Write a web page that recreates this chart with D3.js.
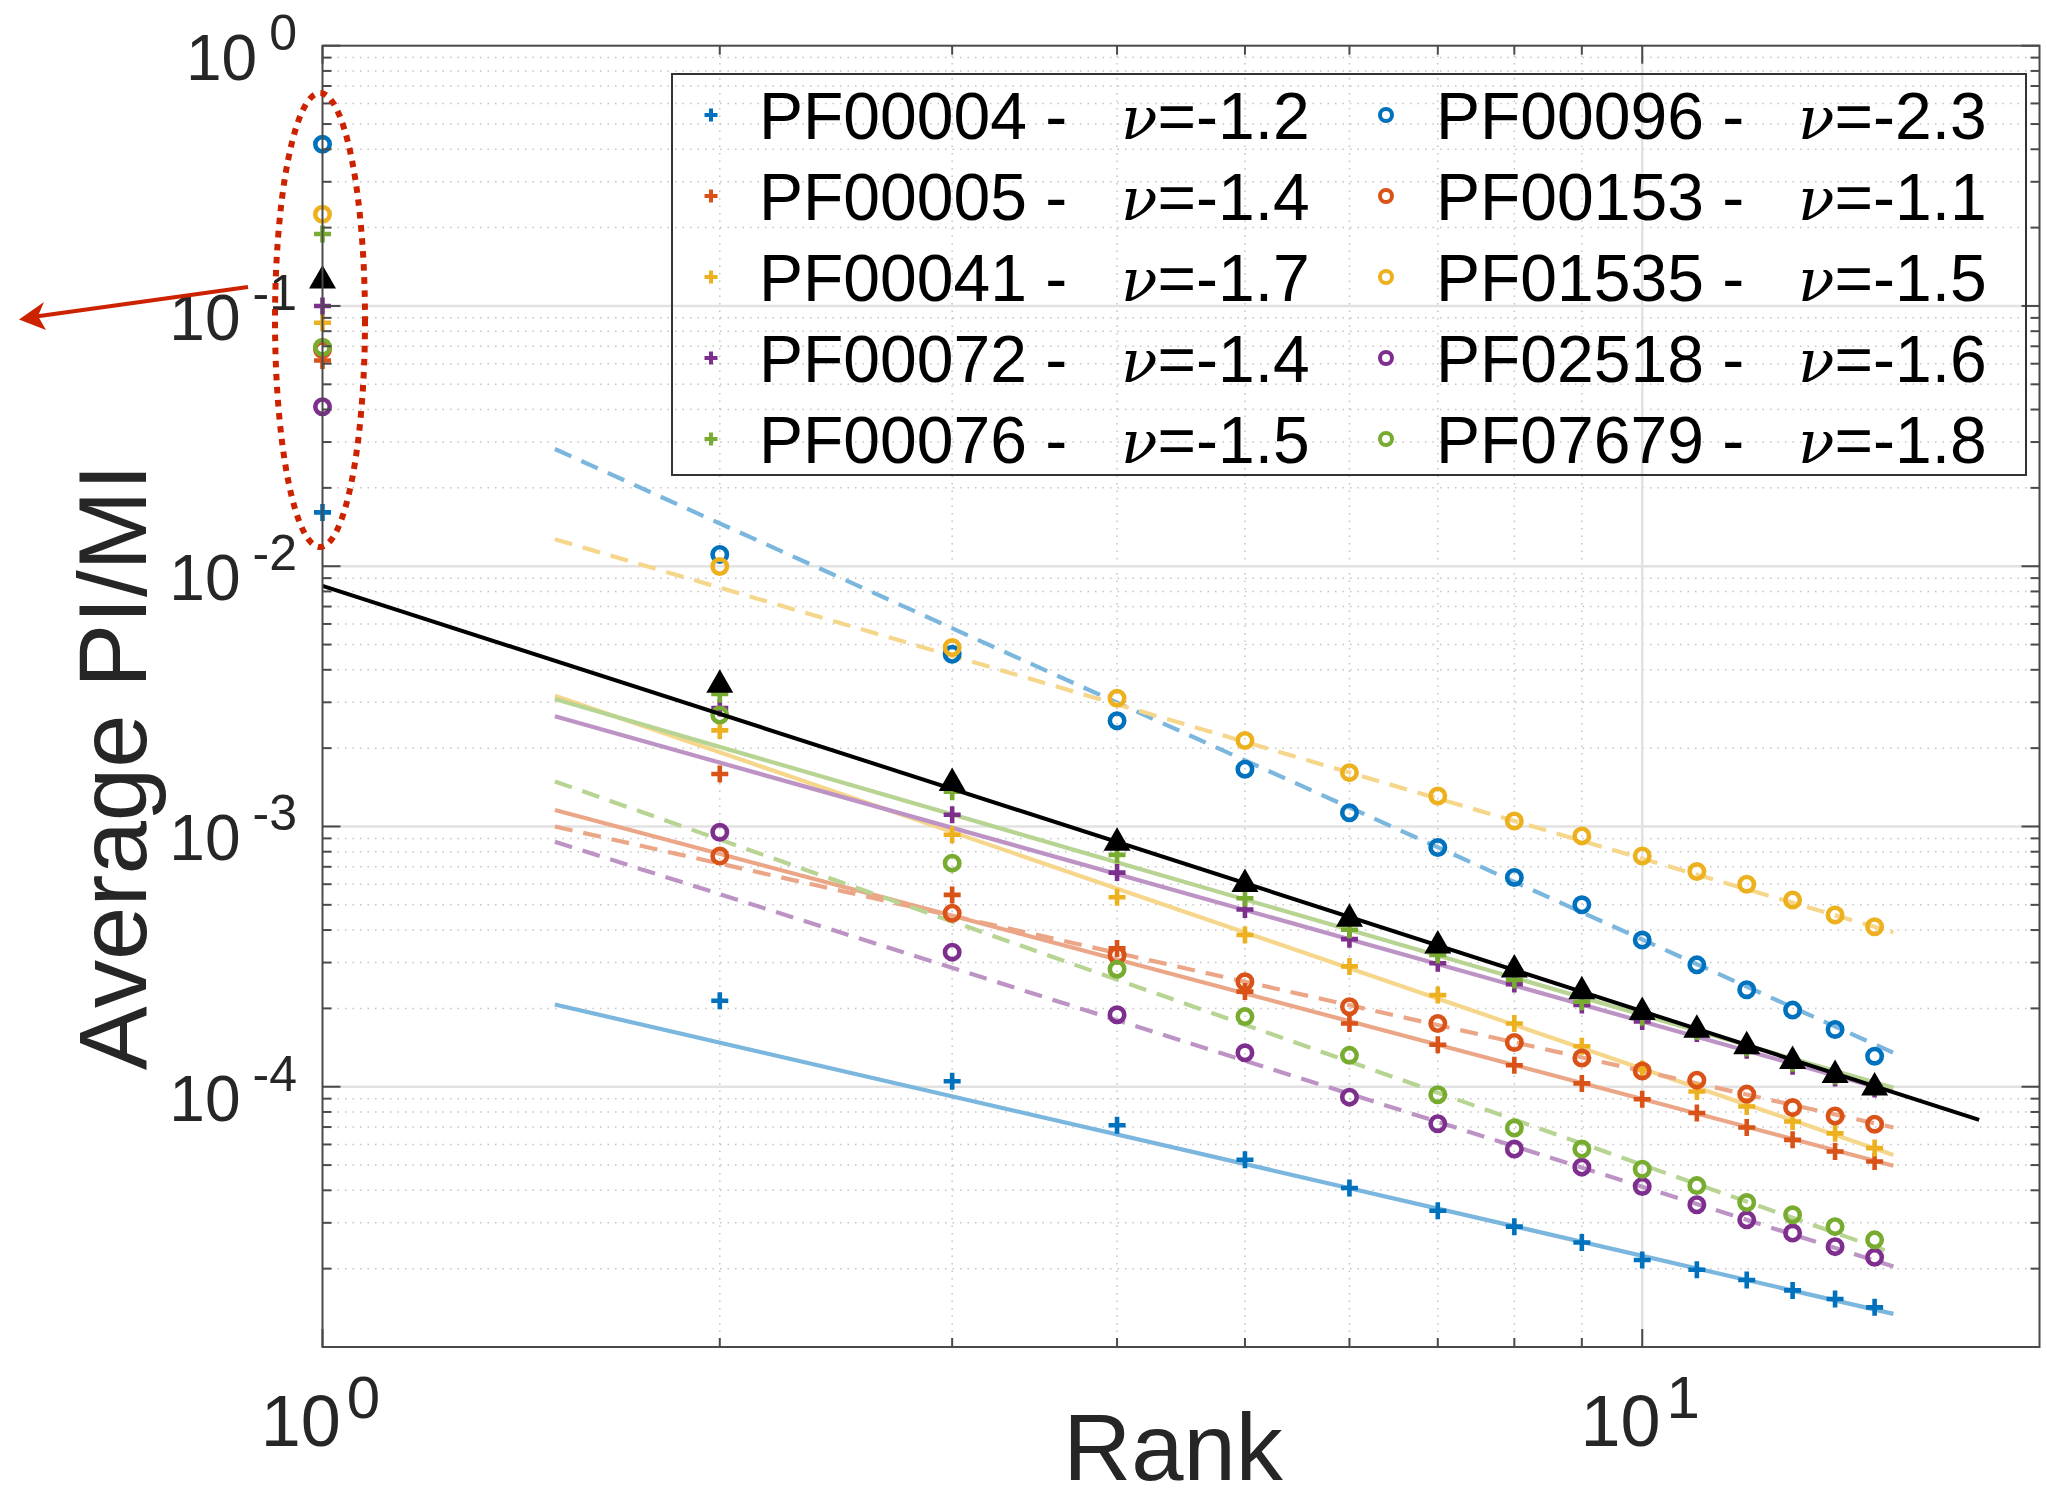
<!DOCTYPE html>
<html>
<head>
<meta charset="utf-8">
<script src="https://cdn.jsdelivr.net/npm/d3@7"></script>
<style>
  body { margin: 0; background: #fff; }
  svg { display: block; font-family: "Liberation Sans", Arial, Helvetica, sans-serif; }
</style>
</head>
<body>
<script>
// ---- data ----
const ranks = [1, 2, 3, 4, 5, 6, 7, 8, 9, 10, 11, 12, 13, 14, 15];

const families = ["PF00004", "PF00005", "PF00041", "PF00072", "PF00076",
                  "PF00096", "PF00153", "PF01535", "PF02518", "PF07679"];
const nuLabels = ["-1.2", "-1.4", "-1.7", "-1.4", "-1.5",
                  "-2.3", "-1.1", "-1.5", "-1.6", "-1.8"];
const markerKind = ["plus", "plus", "plus", "plus", "plus",
                    "circle", "circle", "circle", "circle", "circle"];

const pf00004 = [0.0161, 0.000214, 0.000105, 0.0000711, 0.0000524, 0.0000408, 0.0000334, 0.000029, 0.0000252, 0.0000216, 0.0000198, 0.0000181, 0.0000165, 0.0000153, 0.0000142];
const pf00005 = [0.0617, 0.00159, 0.000546, 0.00034, 0.000232, 0.000175, 0.000145, 0.000121, 0.000103, 0.0000895, 0.0000793, 0.0000697, 0.0000625, 0.0000564, 0.0000516];
const pf00041 = [0.0862, 0.00234, 0.00093, 0.000535, 0.000383, 0.00029, 0.000225, 0.000175, 0.000143, 0.000117, 0.0000959, 0.000084, 0.0000735, 0.0000662, 0.0000581];
const pf00072 = [0.1, 0.00285, 0.00111, 0.000665, 0.00048, 0.000369, 0.000298, 0.000248, 0.000206, 0.000178, 0.00016, 0.000138, 0.00012, 0.000108, 0.000098];
const pf00076 = [0.189, 0.00323, 0.00136, 0.000778, 0.00053, 0.000401, 0.000321, 0.000257, 0.000212, 0.000185, 0.000163, 0.000141, 0.000123, 0.00011, 0.0001];
const pf00096 = [0.418, 0.0111, 0.00459, 0.00255, 0.00166, 0.00113, 0.00083, 0.000637, 0.0005, 0.000366, 0.000294, 0.000236, 0.000197, 0.000166, 0.000131];
const pf00153 = [0.068, 0.00077, 0.000464, 0.00032, 0.000253, 0.000203, 0.000175, 0.000148, 0.000129, 0.000115, 0.000106, 0.0000937, 0.0000832, 0.0000772, 0.0000718];
const pf01535 = [0.225, 0.00997, 0.00487, 0.00311, 0.00214, 0.00161, 0.00131, 0.00105, 0.00092, 0.00077, 0.000671, 0.0006, 0.000522, 0.000457, 0.000412];
const pf02518 = [0.041, 0.00095, 0.000329, 0.000189, 0.000135, 0.0000912, 0.0000721, 0.0000576, 0.0000491, 0.0000414, 0.0000352, 0.0000308, 0.0000274, 0.0000243, 0.0000221];
const pf07679 = [0.0694, 0.00268, 0.000723, 0.000283, 0.000186, 0.000132, 0.0000932, 0.0000694, 0.0000576, 0.0000482, 0.0000417, 0.0000359, 0.0000322, 0.000029, 0.0000258];
const average = [0.1285, 0.0036, 0.00151, 0.00089, 0.000618, 0.000454, 0.000358, 0.00029, 0.000239, 0.000199, 0.00017, 0.000147, 0.000129, 0.000114, 0.000102];

const seriesValues = [pf00004, pf00005, pf00041, pf00072, pf00076,
                      pf00096, pf00153, pf01535, pf02518, pf07679];

// power-law fits: value at the start and end of the fitted range
const fitRange = [1.5, 15.5];
const fitStart = [0.000207, 0.001156, 0.00318, 0.00265, 0.00309, 0.0282, 0.001, 0.0127, 0.000873, 0.00149];
const fitEnd   = [0.0000134, 0.0000497, 0.0000547, 0.0000955, 0.000099, 0.000135, 0.0000697, 0.000392, 0.0000204, 0.0000229];
const avgFitRange = [1, 18];
const avgFit = [0.0084, 0.0000746];

const xMajor = [1, 10];
const yMajor = [1, 0.1, 0.01, 0.001, 0.0001, 0.00001];
const yLabelled = [["0", 1], ["-1", 0.1], ["-2", 0.01], ["-3", 0.001], ["-4", 0.0001]];
const xLabelled = [["0", 1], ["1", 10]];

// ---- drawing ----
const W = 2047, H = 1501;
const palette = ["#0072BD", "#D95319", "#EDB120", "#7E2F8E", "#77AC30"];
const colorOf = i => palette[i % 5];
const lightOf = i => d3.interpolateRgb(palette[i % 5], "#ffffff")(0.48);

const svg = d3.select("body").append("svg")
	.attr("width", W).attr("height", H);

const x = d3.scaleLog().domain([1, 20]).range([322.5, 2039.5]);
const y = d3.scaleLog().domain([1e-5, 1]).range([1347, 45.7]);
const [x0, x1] = x.range();
const [y0, y1] = y.range();

// minor tick positions (2..9 inside each decade)
const xMinor = [];
[1].forEach(d => { for (let k = 2; k <= 9; k++) xMinor.push(k * d); });
const yMinor = [];
[1e-5, 1e-4, 1e-3, 1e-2, 1e-1].forEach(d => { for (let k = 2; k <= 9; k++) yMinor.push(k * d); });

const grid = svg.append("g");
grid.selectAll(".gx").data(xMinor).join("line")
	.attr("x1", d => x(d)).attr("x2", d => x(d)).attr("y1", y0).attr("y2", y1)
	.attr("stroke", "#c4c4c4").attr("stroke-width", 1.5).attr("stroke-dasharray", "1.5,6");
grid.selectAll(".gy").data(yMinor).join("line")
	.attr("y1", d => y(d)).attr("y2", d => y(d)).attr("x1", x0).attr("x2", x1)
	.attr("stroke", "#c4c4c4").attr("stroke-width", 1.5).attr("stroke-dasharray", "1.5,6");
grid.selectAll(".Gx").data([10]).join("line")
	.attr("x1", d => x(d)).attr("x2", d => x(d)).attr("y1", y0).attr("y2", y1)
	.attr("stroke", "#e2e2e2").attr("stroke-width", 2.5);
grid.selectAll(".Gy").data([0.1, 0.01, 0.001, 0.0001]).join("line")
	.attr("y1", d => y(d)).attr("y2", d => y(d)).attr("x1", x0).attr("x2", x1)
	.attr("stroke", "#e2e2e2").attr("stroke-width", 2.5);

// fit lines for the families
const line = d3.line().x(d => x(d[0])).y(d => y(d[1]));
const fits = svg.append("g");
families.forEach((f, i) => {
	fits.append("path")
		.attr("d", line([[fitRange[0], fitStart[i]], [fitRange[1], fitEnd[i]]]))
		.attr("fill", "none")
		.attr("stroke", lightOf(i))
		.attr("stroke-width", 4.2)
		.attr("stroke-dasharray", markerKind[i] === "circle" ? "18,11" : null);
});

// markers
const plusPath = s => `M${-s},0H${s}M0,${-s}V${s}`;
const marks = svg.append("g");
seriesValues.forEach((vals, i) => {
	const pts = ranks.map((r, j) => [r, vals[j]]);
	if (markerKind[i] === "plus") {
		marks.append("g").selectAll("path").data(pts).join("path")
			.attr("transform", d => `translate(${x(d[0])},${y(d[1])})`)
			.attr("d", plusPath(8.5))
			.attr("stroke", colorOf(i)).attr("stroke-width", 4.6).attr("fill", "none");
	} else {
		marks.append("g").selectAll("circle").data(pts).join("circle")
			.attr("cx", d => x(d[0])).attr("cy", d => y(d[1])).attr("r", 7.2)
			.attr("stroke", colorOf(i)).attr("stroke-width", 4.6).attr("fill", "none");
	}
});

// average fit and average markers
svg.append("path")
	.attr("d", line([[avgFitRange[0], avgFit[0]], [avgFitRange[1], avgFit[1]]]))
	.attr("fill", "none").attr("stroke", "#000").attr("stroke-width", 4);
svg.append("g").selectAll("path").data(ranks.map((r, j) => [r, average[j]])).join("path")
	.attr("transform", d => `translate(${x(d[0])},${y(d[1])})`)
	.attr("d", "M0,-12.5L13.5,11L-13.5,11Z")
	.attr("fill", "#000");

// axes box and ticks
const axis = svg.append("g").attr("stroke", "#4a4a4a").attr("stroke-width", 2);
axis.append("rect").attr("x", x0).attr("y", y1).attr("width", x1 - x0).attr("height", y0 - y1)
	.attr("fill", "none");
yMajor.concat(yMinor).forEach(v => {
	const len = yMajor.includes(v) ? 18 : 9;
	axis.append("line").attr("x1", x0).attr("x2", x0 + len).attr("y1", y(v)).attr("y2", y(v));
	axis.append("line").attr("x1", x1).attr("x2", x1 - len).attr("y1", y(v)).attr("y2", y(v));
});
xMajor.concat(xMinor).forEach(v => {
	const len = xMajor.includes(v) ? 18 : 9;
	axis.append("line").attr("y1", y0).attr("y2", y0 - len).attr("x1", x(v)).attr("x2", x(v));
	axis.append("line").attr("y1", y1).attr("y2", y1 + len).attr("x1", x(v)).attr("x2", x(v));
});

// tick labels
yLabelled.forEach(([e, v]) => {
	const t = svg.append("text")
		.attr("x", 297).attr("y", y(v) + 34)
		.attr("text-anchor", "end").attr("fill", "#262626").attr("font-size", 64);
	t.append("tspan").text("10");
	t.append("tspan").attr("dx", 12).attr("dy", -30).attr("font-size", 50).text(e);
});
xLabelled.forEach(([e, v]) => {
	const t = svg.append("text")
		.attr("x", x(v) - 2).attr("y", 1446)
		.attr("text-anchor", "middle").attr("fill", "#262626").attr("font-size", 72);
	t.append("tspan").text("10");
	t.append("tspan").attr("dx", 6).attr("dy", -28).attr("font-size", 60).text(e);
});

// axis titles
svg.append("text")
	.attr("transform", "translate(146,767) rotate(-90)")
	.attr("text-anchor", "middle").attr("fill", "#262626").attr("font-size", 96)
	.text("Average PI/MI");
svg.append("text")
	.attr("x", 1173).attr("y", 1480)
	.attr("text-anchor", "middle").attr("fill", "#262626").attr("font-size", 94)
	.text("Rank");

// legend
const legend = svg.append("g");
legend.append("rect").attr("x", 672).attr("y", 74).attr("width", 1354).attr("height", 401)
	.attr("fill", "none").attr("stroke", "#333").attr("stroke-width", 2);
families.forEach((f, i) => {
	const col = Math.floor(i / 5), row = i % 5;
	const cy = 115 + row * 81;
	const mx = col === 0 ? 711 : 1386;
	const tx = col === 0 ? 759 : 1436;
	if (markerKind[i] === "plus") {
		legend.append("path").attr("transform", `translate(${mx},${cy})`)
			.attr("d", plusPath(6.5)).attr("stroke", colorOf(i)).attr("stroke-width", 4).attr("fill", "none");
	} else {
		legend.append("circle").attr("cx", mx).attr("cy", cy).attr("r", 6)
			.attr("stroke", colorOf(i)).attr("stroke-width", 4).attr("fill", "none");
	}
	legend.append("text").attr("x", tx).attr("y", cy + 24).attr("font-size", 66).attr("fill", "#000")
		.text(f + " -");
	const nt = legend.append("text").attr("x", tx + 362).attr("y", cy + 24)
		.attr("font-size", 66).attr("fill", "#000");
	nt.append("tspan").attr("font-family", "'DejaVu Serif', 'Liberation Serif', serif")
		.attr("font-style", "italic").attr("font-size", 60).text("ν");
	nt.append("tspan").text("=" + nuLabels[i]);
});

// annotation: dotted ellipse around rank-1 values and arrow
svg.append("ellipse")
	.attr("cx", 320).attr("cy", 320).attr("rx", 45).attr("ry", 227)
	.attr("fill", "none").attr("stroke", "#cc2200").attr("stroke-width", 6)
	.attr("stroke-dasharray", "6.5,6.5");
svg.append("line")
	.attr("x1", 248).attr("y1", 287).attr("x2", 36).attr("y2", 316.5)
	.attr("stroke", "#cc2200").attr("stroke-width", 4);
svg.append("path")
	.attr("d", "M19,319.5L44,302L38,316L46,330Z")
	.attr("fill", "#cc2200");
</script>
</body>
</html>
